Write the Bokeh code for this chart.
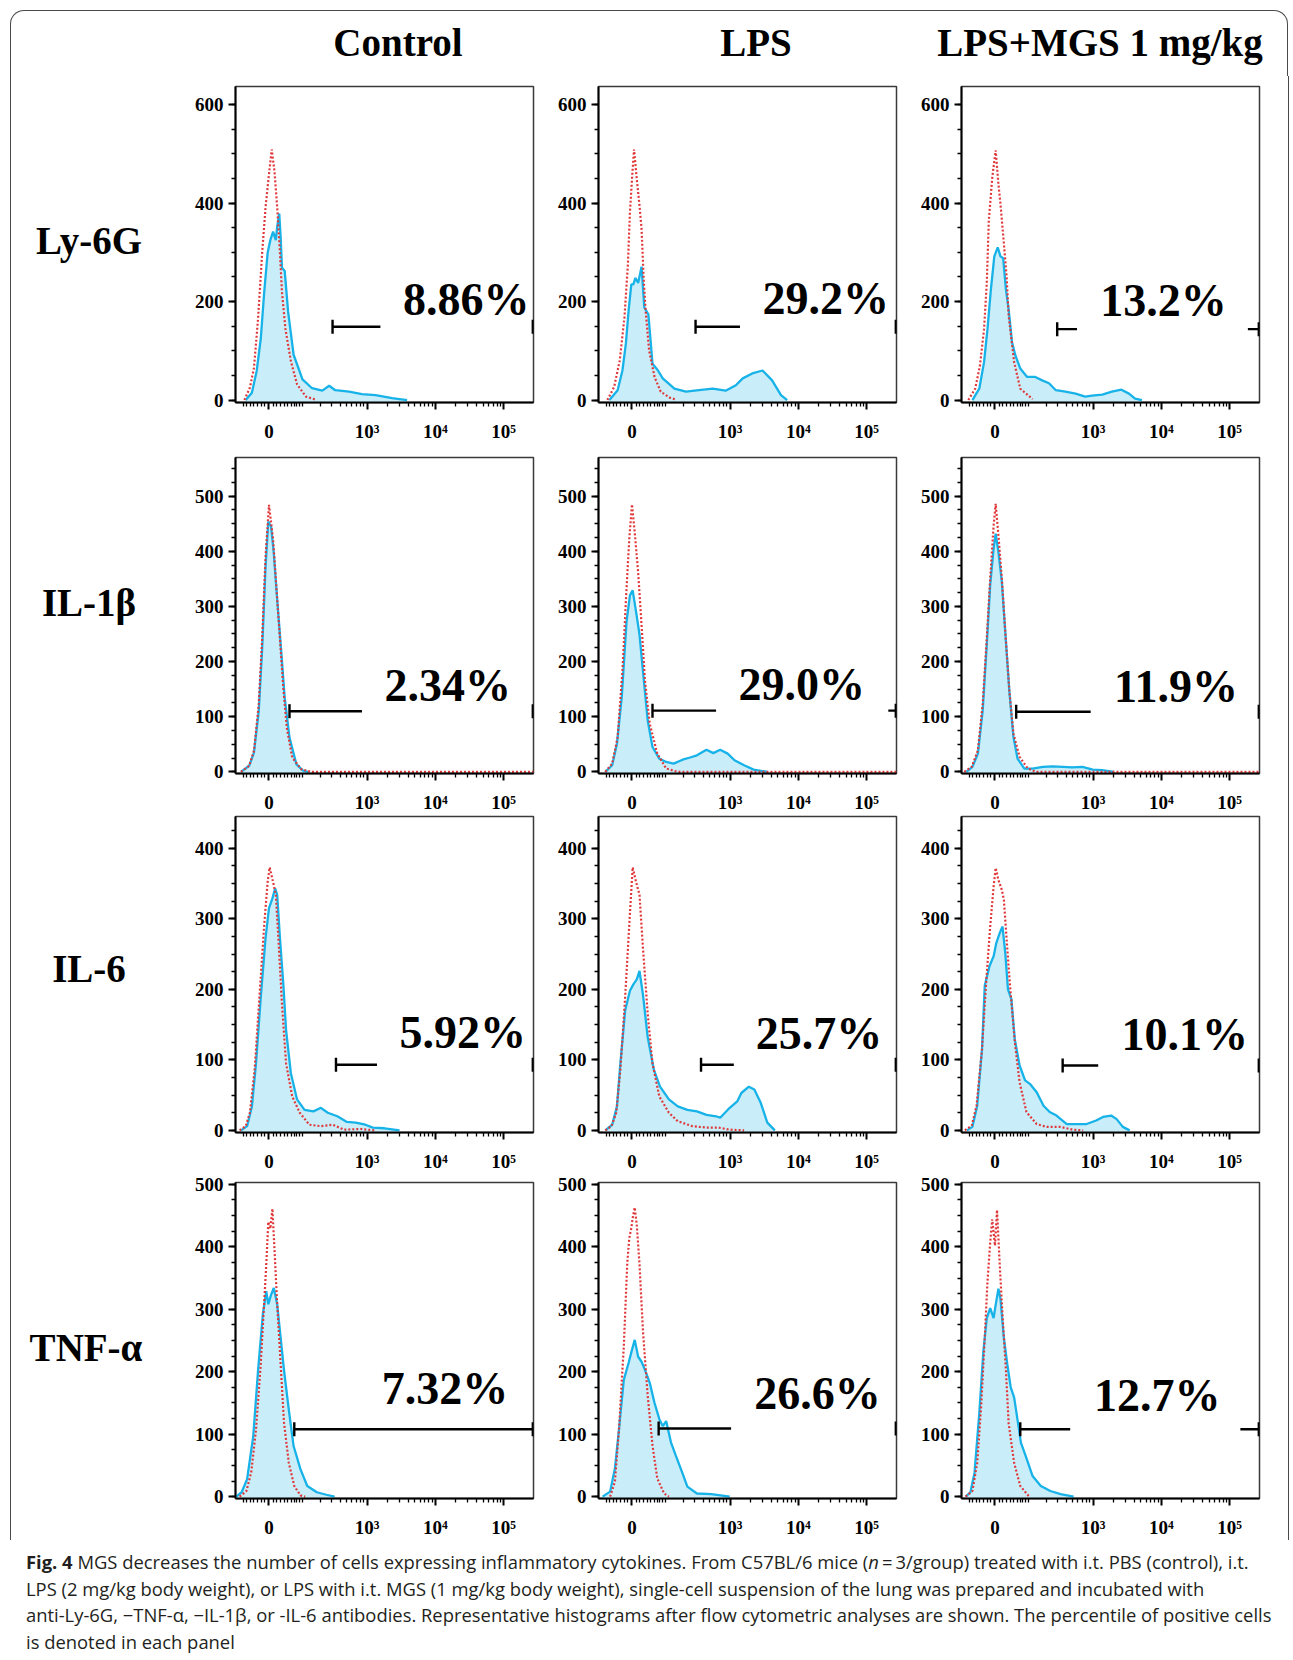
import math
from bokeh.plotting import figure
from bokeh.layouts import row, column
from bokeh.models import Div, FixedTicker, SingleIntervalTicker, Range1d
from bokeh.embed import file_html
from bokeh.resources import INLINE
from bokeh.core.properties import value

# ---------------- data ----------------
GROUPS = ["Control", "LPS", "LPS+MGS 1 mg/kg"]
MARKERS = ["Ly-6G", "IL-1β", "IL-6", "TNF-α"]
PERCENTS = [["8.86%", "29.2%", "13.2%"],
            ["2.34%", "29.0%", "11.9%"],
            ["5.92%", "25.7%", "10.1%"],
            ["7.32%", "26.6%", "12.7%"]]

# fluorescence axis (biexponential display, in decades; 0 -> position 0)
X_TICK_VALUES = [0, 1e3, 1e4, 1e5]
X_TICK_LABELS = ["0", "10³", "10⁴", "10⁵"]
X_MINOR_VALUES = ([-70, -60, -50, -40, -30, -20, -10] + list(range(10, 101, 10))
                  + list(range(200, 1000, 100)) + list(range(2000, 10000, 1000))
                  + list(range(20000, 100000, 10000)))
Y_STEP = [200, 100, 100, 100]

# counts vs display position; ISO = isotype (red dotted), S = stained sample (cyan)
LY6G_CTRL_ISO_X = [-0.36, -0.28, -0.22, -0.16, -0.10, -0.05, 0.00, 0.04, 0.08, 0.12, 0.16, 0.19, 0.24, 0.32, 0.41, 0.54, 0.68]
LY6G_CTRL_ISO_Y = [0, 25, 65, 165, 299, 392, 459, 509, 465, 392, 299, 219, 145, 79, 32, 7, 1]
LY6G_CTRL_S_X = [-0.34, -0.25, -0.18, -0.12, -0.07, -0.02, 0.02, 0.06, 0.10, 0.12, 0.15, 0.17, 0.19, 0.23, 0.28, 0.36, 0.49, 0.63, 0.78, 0.88, 0.97, 1.17, 1.36, 1.56, 1.80, 2.02]
LY6G_CTRL_S_Y = [0, 15, 59, 125, 219, 299, 325, 342, 325, 352, 379, 332, 269, 262, 179, 92, 42, 24, 19, 29, 20, 17, 12, 10, 4, 0]

LY6G_LPS_ISO_X = [-0.36, -0.26, -0.18, -0.11, -0.06, -0.03, 0.00, 0.03, 0.07, 0.11, 0.14, 0.17, 0.20, 0.25, 0.33, 0.42, 0.55, 0.64]
LY6G_LPS_ISO_Y = [0, 27, 80, 168, 275, 382, 449, 509, 449, 395, 348, 248, 181, 101, 47, 17, 5, 1]
LY6G_LPS_S_X = [-0.33, -0.21, -0.14, -0.09, -0.05, -0.01, 0.02, 0.05, 0.09, 0.14, 0.18, 0.24, 0.30, 0.38, 0.45, 0.62, 0.79, 0.98, 1.18, 1.37, 1.52, 1.62, 1.76, 1.91, 2.05, 2.18, 2.27]
LY6G_LPS_S_Y = [0, 20, 60, 114, 181, 235, 235, 248, 238, 271, 188, 174, 74, 60, 44, 23, 17, 20, 23, 19, 30, 44, 54, 60, 40, 10, 0]

LY6G_MGS_ISO_X = [-0.39, -0.29, -0.22, -0.16, -0.12, -0.09, -0.04, 0.01, 0.05, 0.08, 0.13, 0.17, 0.20, 0.28, 0.37, 0.55]
LY6G_MGS_ISO_Y = [0, 23, 70, 144, 238, 365, 452, 507, 439, 399, 318, 251, 171, 77, 23, 2]
LY6G_MGS_S_X = [-0.33, -0.23, -0.16, -0.11, -0.06, -0.01, 0.04, 0.08, 0.12, 0.16, 0.20, 0.25, 0.30, 0.37, 0.47, 0.59, 0.69, 0.79, 0.89, 1.03, 1.18, 1.32, 1.42, 1.57, 1.71, 1.85, 1.96, 2.05, 2.15]
LY6G_MGS_S_Y = [0, 23, 77, 144, 225, 292, 310, 292, 288, 225, 184, 117, 90, 64, 47, 47, 40, 34, 20, 17, 13, 7, 9, 11, 17, 21, 13, 3, 0]

IL1B_CTRL_ISO_X = [-0.41, -0.29, -0.22, -0.15, -0.10, -0.05, 0.00, 0.06, 0.11, 0.16, 0.21, 0.26, 0.34, 0.47, 0.61, 3.87]
IL1B_CTRL_ISO_Y = [0, 11, 38, 122, 241, 391, 484, 421, 331, 241, 151, 80, 26, 5, 0, 0]
IL1B_CTRL_S_X = [-0.41, -0.29, -0.22, -0.15, -0.10, -0.05, -0.01, 0.03, 0.07, 0.12, 0.18, 0.23, 0.30, 0.40, 0.50, 0.57]
IL1B_CTRL_S_Y = [0, 11, 35, 110, 223, 373, 454, 445, 397, 313, 217, 134, 62, 14, 2, 0]

IL1B_LPS_ISO_X = [-0.39, -0.29, -0.21, -0.14, -0.08, -0.04, 0.00, 0.04, 0.09, 0.14, 0.19, 0.26, 0.37, 0.50, 0.67, 3.87]
IL1B_LPS_ISO_Y = [0, 15, 63, 183, 332, 422, 485, 434, 362, 266, 165, 87, 33, 6, 0, 0]
IL1B_LPS_S_X = [-0.39, -0.29, -0.22, -0.15, -0.08, -0.03, 0.01, 0.06, 0.11, 0.16, 0.23, 0.30, 0.40, 0.50, 0.61, 0.74, 0.85, 0.95, 1.09, 1.19, 1.29, 1.40, 1.50, 1.64, 1.78, 1.98]
IL1B_LPS_S_Y = [0, 12, 51, 135, 272, 320, 329, 290, 249, 183, 93, 45, 24, 18, 15, 22, 26, 30, 40, 34, 40, 33, 21, 12, 4, 0]

IL1B_MGS_ISO_X = [-0.45, -0.34, -0.25, -0.18, -0.12, -0.07, -0.02, 0.01, 0.05, 0.10, 0.15, 0.21, 0.27, 0.36, 0.48, 0.60, 3.87]
IL1B_MGS_ISO_Y = [0, 9, 39, 123, 243, 351, 447, 486, 429, 351, 255, 147, 69, 27, 6, 0, 0]
IL1B_MGS_S_X = [-0.42, -0.33, -0.25, -0.18, -0.12, -0.07, -0.02, 0.01, 0.05, 0.10, 0.15, 0.21, 0.27, 0.33, 0.43, 0.55, 0.70, 0.84, 0.99, 1.13, 1.28, 1.43, 1.57, 1.74]
IL1B_MGS_S_Y = [0, 9, 33, 111, 231, 339, 405, 432, 399, 345, 255, 147, 63, 24, 6, 6, 9, 10, 9, 8, 9, 4, 3, 0]

IL6_CTRL_ISO_X = [-0.43, -0.34, -0.28, -0.21, -0.14, -0.07, -0.02, 0.01, 0.06, 0.10, 0.14, 0.19, 0.25, 0.34, 0.45, 0.59, 0.76, 0.93, 1.10, 1.34, 1.55]
IL6_CTRL_ISO_Y = [0, 6, 25, 86, 189, 291, 352, 373, 352, 334, 268, 179, 95, 48, 25, 8, 6, 8, 1, 2, 0]
IL6_CTRL_S_X = [-0.41, -0.32, -0.25, -0.19, -0.12, -0.05, 0.00, 0.05, 0.09, 0.12, 0.16, 0.21, 0.25, 0.32, 0.41, 0.52, 0.65, 0.76, 0.86, 1.00, 1.14, 1.27, 1.41, 1.52, 1.69, 1.91]
IL6_CTRL_S_Y = [0, 6, 34, 95, 189, 273, 315, 329, 343, 334, 273, 207, 142, 81, 44, 29, 27, 32, 25, 20, 12, 11, 8, 4, 3, 0]

IL6_LPS_ISO_X = [-0.39, -0.30, -0.23, -0.17, -0.10, -0.04, 0.01, 0.06, 0.11, 0.16, 0.23, 0.30, 0.40, 0.54, 0.67, 0.88, 1.09, 1.26, 1.43, 1.64]
IL6_LPS_ISO_Y = [0, 6, 25, 86, 189, 291, 373, 352, 334, 259, 165, 95, 48, 25, 13, 6, 4, 4, 1, 0]
IL6_LPS_S_X = [-0.39, -0.29, -0.22, -0.17, -0.10, -0.03, 0.02, 0.07, 0.11, 0.16, 0.23, 0.32, 0.41, 0.54, 0.67, 0.81, 0.95, 1.09, 1.23, 1.29, 1.43, 1.54, 1.60, 1.71, 1.79, 1.88, 1.98, 2.09]
IL6_LPS_S_Y = [0, 8, 34, 95, 170, 198, 207, 214, 226, 193, 132, 86, 62, 44, 34, 29, 27, 22, 20, 18, 32, 41, 53, 62, 58, 40, 11, 0]

IL6_MGS_ISO_X = [-0.44, -0.34, -0.27, -0.19, -0.13, -0.07, -0.02, 0.01, 0.05, 0.10, 0.13, 0.17, 0.22, 0.29, 0.36, 0.46, 0.61, 0.75, 0.95, 1.14, 1.29]
IL6_MGS_ISO_Y = [0, 7, 35, 115, 209, 289, 346, 372, 355, 341, 327, 271, 205, 125, 68, 26, 9, 5, 5, 1, 0]
IL6_MGS_S_X = [-0.41, -0.33, -0.26, -0.19, -0.15, -0.08, -0.02, 0.02, 0.07, 0.11, 0.15, 0.19, 0.24, 0.29, 0.36, 0.44, 0.51, 0.61, 0.71, 0.80, 0.90, 1.05, 1.19, 1.34, 1.48, 1.58, 1.70, 1.78, 1.87, 1.97]
IL6_MGS_S_Y = [0, 5, 35, 115, 205, 233, 247, 266, 280, 289, 252, 200, 186, 129, 92, 71, 66, 54, 35, 26, 21, 9, 9, 9, 14, 19, 21, 16, 5, 0]

TNF_CTRL_ISO_X = [-0.43, -0.33, -0.26, -0.19, -0.12, -0.08, -0.04, -0.01, 0.02, 0.05, 0.08, 0.12, 0.17, 0.22, 0.29, 0.37, 0.46, 0.53]
TNF_CTRL_ISO_Y = [0, 9, 39, 107, 213, 292, 371, 440, 429, 461, 397, 308, 213, 118, 54, 17, 2, 0]
TNF_CTRL_S_X = [-0.48, -0.40, -0.32, -0.23, -0.16, -0.09, -0.04, -0.01, 0.03, 0.07, 0.12, 0.17, 0.22, 0.29, 0.36, 0.46, 0.56, 0.70, 0.84, 0.96]
TNF_CTRL_S_Y = [0, 7, 28, 97, 202, 292, 329, 308, 323, 334, 308, 255, 202, 139, 81, 44, 17, 7, 3, 0]

TNF_LPS_ISO_X = [-0.32, -0.25, -0.19, -0.12, -0.07, -0.04, -0.01, 0.01, 0.04, 0.07, 0.11, 0.16, 0.23, 0.30, 0.37, 0.47, 0.54]
TNF_LPS_ISO_Y = [0, 24, 108, 240, 372, 414, 430, 446, 463, 435, 372, 266, 161, 82, 29, 5, 0]
TNF_LPS_S_X = [-0.43, -0.32, -0.25, -0.19, -0.12, -0.05, 0.00, 0.04, 0.09, 0.14, 0.19, 0.26, 0.33, 0.40, 0.45, 0.50, 0.57, 0.64, 0.73, 0.81, 0.95, 1.16, 1.43]
TNF_LPS_S_Y = [0, 8, 45, 108, 187, 214, 235, 251, 224, 216, 203, 182, 150, 124, 113, 121, 87, 66, 40, 16, 5, 4, 0]

TNF_MGS_ISO_X = [-0.43, -0.33, -0.26, -0.20, -0.15, -0.11, -0.07, -0.04, 0.00, 0.03, 0.07, 0.11, 0.16, 0.20, 0.28, 0.37, 0.50]
TNF_MGS_ISO_Y = [0, 9, 54, 149, 254, 344, 407, 444, 402, 459, 370, 291, 202, 117, 54, 17, 0]
TNF_MGS_S_X = [-0.43, -0.36, -0.30, -0.23, -0.17, -0.12, -0.07, -0.02, 0.01, 0.05, 0.08, 0.13, 0.18, 0.23, 0.28, 0.33, 0.38, 0.45, 0.55, 0.67, 0.81, 0.96, 1.15]
TNF_MGS_S_Y = [0, 7, 38, 133, 233, 286, 302, 286, 307, 333, 317, 254, 212, 175, 159, 123, 86, 65, 33, 17, 9, 4, 0]

# positive-cell gate: start, visible end, level (count), resume before right edge
GATE_START = [[0.93, 0.93, 0.91], [0.30, 0.30, 0.31], [0.98, 1.01, 0.99], [0.37, 0.39, 0.37]]
GATE_BREAK = [[1.63, 1.58, 1.20], [1.36, 1.23, 1.40], [1.58, 1.49, 1.51], [3.86, 1.45, 1.10]]
GATE_LEVEL = [[149, 149, 144], [110, 111, 109], [93, 93, 92], [108, 109, 108]]
GATE_RESUME = [[None, None, 3.70], [None, 3.75, None], [None, None, None], [None, None, 3.59]]
GATE_END = 3.86

# ---------------- layout / style ----------------
LABEL_POS = [[(1.96, 171), (1.91, 173), (1.54, 170)],
             [(1.69, 128), (1.56, 129), (1.74, 125)],
             [(1.91, 116), (1.81, 114), (1.85, 113)],
             [(1.65, 147), (1.79, 140), (1.45, 136)]]
Y_RANGES = [(-5, 637), (-3, 570), (-3, 445), (-3, 503)]
TOPS = [10, 13, 1, 8]
BOTTOM = 40
FRAME_H = 318
CYAN = "#17b2e8"
FILL = "#c9eef9"
RED = "#e0383a"
SERIF = "Liberation Serif"

DATA = [
    [(LY6G_CTRL_ISO_X, LY6G_CTRL_ISO_Y, LY6G_CTRL_S_X, LY6G_CTRL_S_Y),
     (LY6G_LPS_ISO_X, LY6G_LPS_ISO_Y, LY6G_LPS_S_X, LY6G_LPS_S_Y),
     (LY6G_MGS_ISO_X, LY6G_MGS_ISO_Y, LY6G_MGS_S_X, LY6G_MGS_S_Y)],
    [(IL1B_CTRL_ISO_X, IL1B_CTRL_ISO_Y, IL1B_CTRL_S_X, IL1B_CTRL_S_Y),
     (IL1B_LPS_ISO_X, IL1B_LPS_ISO_Y, IL1B_LPS_S_X, IL1B_LPS_S_Y),
     (IL1B_MGS_ISO_X, IL1B_MGS_ISO_Y, IL1B_MGS_S_X, IL1B_MGS_S_Y)],
    [(IL6_CTRL_ISO_X, IL6_CTRL_ISO_Y, IL6_CTRL_S_X, IL6_CTRL_S_Y),
     (IL6_LPS_ISO_X, IL6_LPS_ISO_Y, IL6_LPS_S_X, IL6_LPS_S_Y),
     (IL6_MGS_ISO_X, IL6_MGS_ISO_Y, IL6_MGS_S_X, IL6_MGS_S_Y)],
    [(TNF_CTRL_ISO_X, TNF_CTRL_ISO_Y, TNF_CTRL_S_X, TNF_CTRL_S_Y),
     (TNF_LPS_ISO_X, TNF_LPS_ISO_Y, TNF_LPS_S_X, TNF_LPS_S_Y),
     (TNF_MGS_ISO_X, TNF_MGS_ISO_Y, TNF_MGS_S_X, TNF_MGS_S_Y)],
]

WIDTH_BASIS = 73.6


def disp(v):
    return math.asinh(v / WIDTH_BASIS) / math.log(10)


MAJOR = [round(disp(v), 3) for v in X_TICK_VALUES]
MINOR = [round(disp(v), 4) for v in X_MINOR_VALUES]


def style_axis(ax):
    ax.axis_line_color = "black"
    ax.axis_line_width = 2
    ax.major_tick_line_color = "black"
    ax.major_tick_line_width = 2
    ax.major_tick_in = 0
    ax.major_tick_out = 7
    ax.minor_tick_line_color = "black"
    ax.minor_tick_line_width = 1.3
    ax.minor_tick_in = 0
    ax.minor_tick_out = 4
    ax.major_label_text_font = SERIF
    ax.major_label_text_font_style = "bold"
    ax.major_label_text_font_size = "19px"
    ax.major_label_text_color = "black"


def panel(r, c):
    ix, iy, sx, sy = DATA[r][c]
    y0, y1 = Y_RANGES[r]
    p = figure(width=363, height=TOPS[r] + FRAME_H + BOTTOM,
               x_range=Range1d(-0.49, 3.87), y_range=Range1d(y0, y1),
               output_backend="svg", toolbar_location=None,
               min_border_left=60, min_border_right=5,
               min_border_top=TOPS[r], min_border_bottom=BOTTOM)
    p.xgrid.visible = False
    p.ygrid.visible = False
    p.outline_line_color = "#3a3a3a"
    p.outline_line_width = 1.5
    p.xaxis.ticker = FixedTicker(ticks=MAJOR, minor_ticks=MINOR)
    p.xaxis.major_label_overrides = {t: lab for t, lab in zip(MAJOR, X_TICK_LABELS)}
    p.xaxis.major_label_standoff = 11
    p.yaxis.ticker = SingleIntervalTicker(interval=Y_STEP[r], num_minor_ticks=4)
    p.yaxis.major_label_standoff = 5
    style_axis(p.xaxis[0])
    style_axis(p.yaxis[0])

    p.varea(x=sx, y1=y0, y2=sy, fill_color=FILL, fill_alpha=1.0)
    p.line(sx, sy, line_color=CYAN, line_width=2.3)
    p.line(ix, iy, line_color=RED, line_width=2.2, line_dash="2 2")

    gs, gb, gy, gr = GATE_START[r][c], GATE_BREAK[r][c], GATE_LEVEL[r][c], GATE_RESUME[r][c]
    p.segment(x0=[gs], y0=[gy], x1=[gb], y1=[gy], line_color="black", line_width=2.4)
    if gr is not None:
        p.segment(x0=[gr], y0=[gy], x1=[GATE_END], y1=[gy], line_color="black", line_width=2.4)
    p.scatter(x=[gs, GATE_END], y=[gy, gy], marker="dash", angle=math.pi / 2,
              size=14, line_color="black", line_width=2.4)
    lx, ly = LABEL_POS[r][c]
    p.text(x=[lx], y=[ly], text=[PERCENTS[r][c]], text_font=value(SERIF),
           text_font_style="bold", text_font_size="46px", text_color="black",
           text_align="left", text_baseline="alphabetic", y_offset=-16)
    return p


SERIF_CSS = "font-family:'Liberation Serif','Times New Roman',serif;font-weight:bold;font-size:39px;line-height:39px;color:#000;white-space:nowrap;"
BORDER = "1.6px solid #4a4a4a"

header_html = (
    '<div style="position:relative;width:1293px;height:76px;">'
    f'<div style="position:absolute;left:10px;top:10px;width:1278px;height:66px;border-top:{BORDER};'
    f'border-left:{BORDER};border-right:{BORDER};border-radius:14px 14px 0 0;"></div>'
)
for name, cx in zip(GROUPS, [398, 756, 1100]):
    header_html += (f'<span style="position:absolute;left:{cx}px;top:23px;transform:translateX(-50%);'
                    f'{SERIF_CSS}">{name}</span>')
header_html += '</div>'
header = Div(text=header_html, width=1293, height=76, margin=0)

LABEL_TOP = [145, 139, 134, 154]
LABEL_CX = [89, 89, 89, 86]

rows = []
for r in range(4):
    h = TOPS[r] + FRAME_H + BOTTOM
    left_html = (f'<div style="position:relative;width:175px;height:{h}px;">'
                 f'<div style="position:absolute;left:10px;top:0;height:{h}px;border-left:{BORDER};"></div>'
                 f'<span style="position:absolute;left:{LABEL_CX[r]}px;top:{LABEL_TOP[r]}px;'
                 f'transform:translateX(-50%);{SERIF_CSS}">{MARKERS[r]}</span></div>')
    right_html = (f'<div style="position:relative;width:29px;height:{h}px;">'
                  f'<div style="position:absolute;left:24px;top:0;height:{h}px;border-left:{BORDER};"></div></div>')
    left = Div(text=left_html, width=175, height=h, margin=0)
    right = Div(text=right_html, width=29, height=h, margin=0)
    rows.append(row(left, panel(r, 0), panel(r, 1), panel(r, 2), right, spacing=0))

CAPTION = ('<b>Fig. 4</b> MGS decreases the number of cells expressing inflammatory cytokines. '
           'From C57BL/6 mice (<i>n</i>&thinsp;=&thinsp;3/group) treated with i.t. PBS (control), i.t.<br>'
           'LPS (2&nbsp;mg/kg body weight), or LPS with i.t. MGS (1&nbsp;mg/kg body weight), single-cell '
           'suspension of the lung was prepared and incubated with<br>'
           'anti-Ly-6G, −TNF-α, −IL-1β, or -IL-6 antibodies. Representative histograms after flow cytometric '
           'analyses are shown. The percentile of positive cells<br>'
           'is denoted in each panel')
caption = Div(text=(f'<div style="padding:9px 0 0 26px;width:1267px;font-family:\'Open Sans\',sans-serif;'
                    f'font-size:18.4px;line-height:26.5px;color:#231f20;white-space:nowrap;">{CAPTION}</div>'),
              width=1293, height=112, margin=0)

layout = column(header, *rows, caption, spacing=0)
open("out.html", "w").write(file_html(layout, INLINE))
